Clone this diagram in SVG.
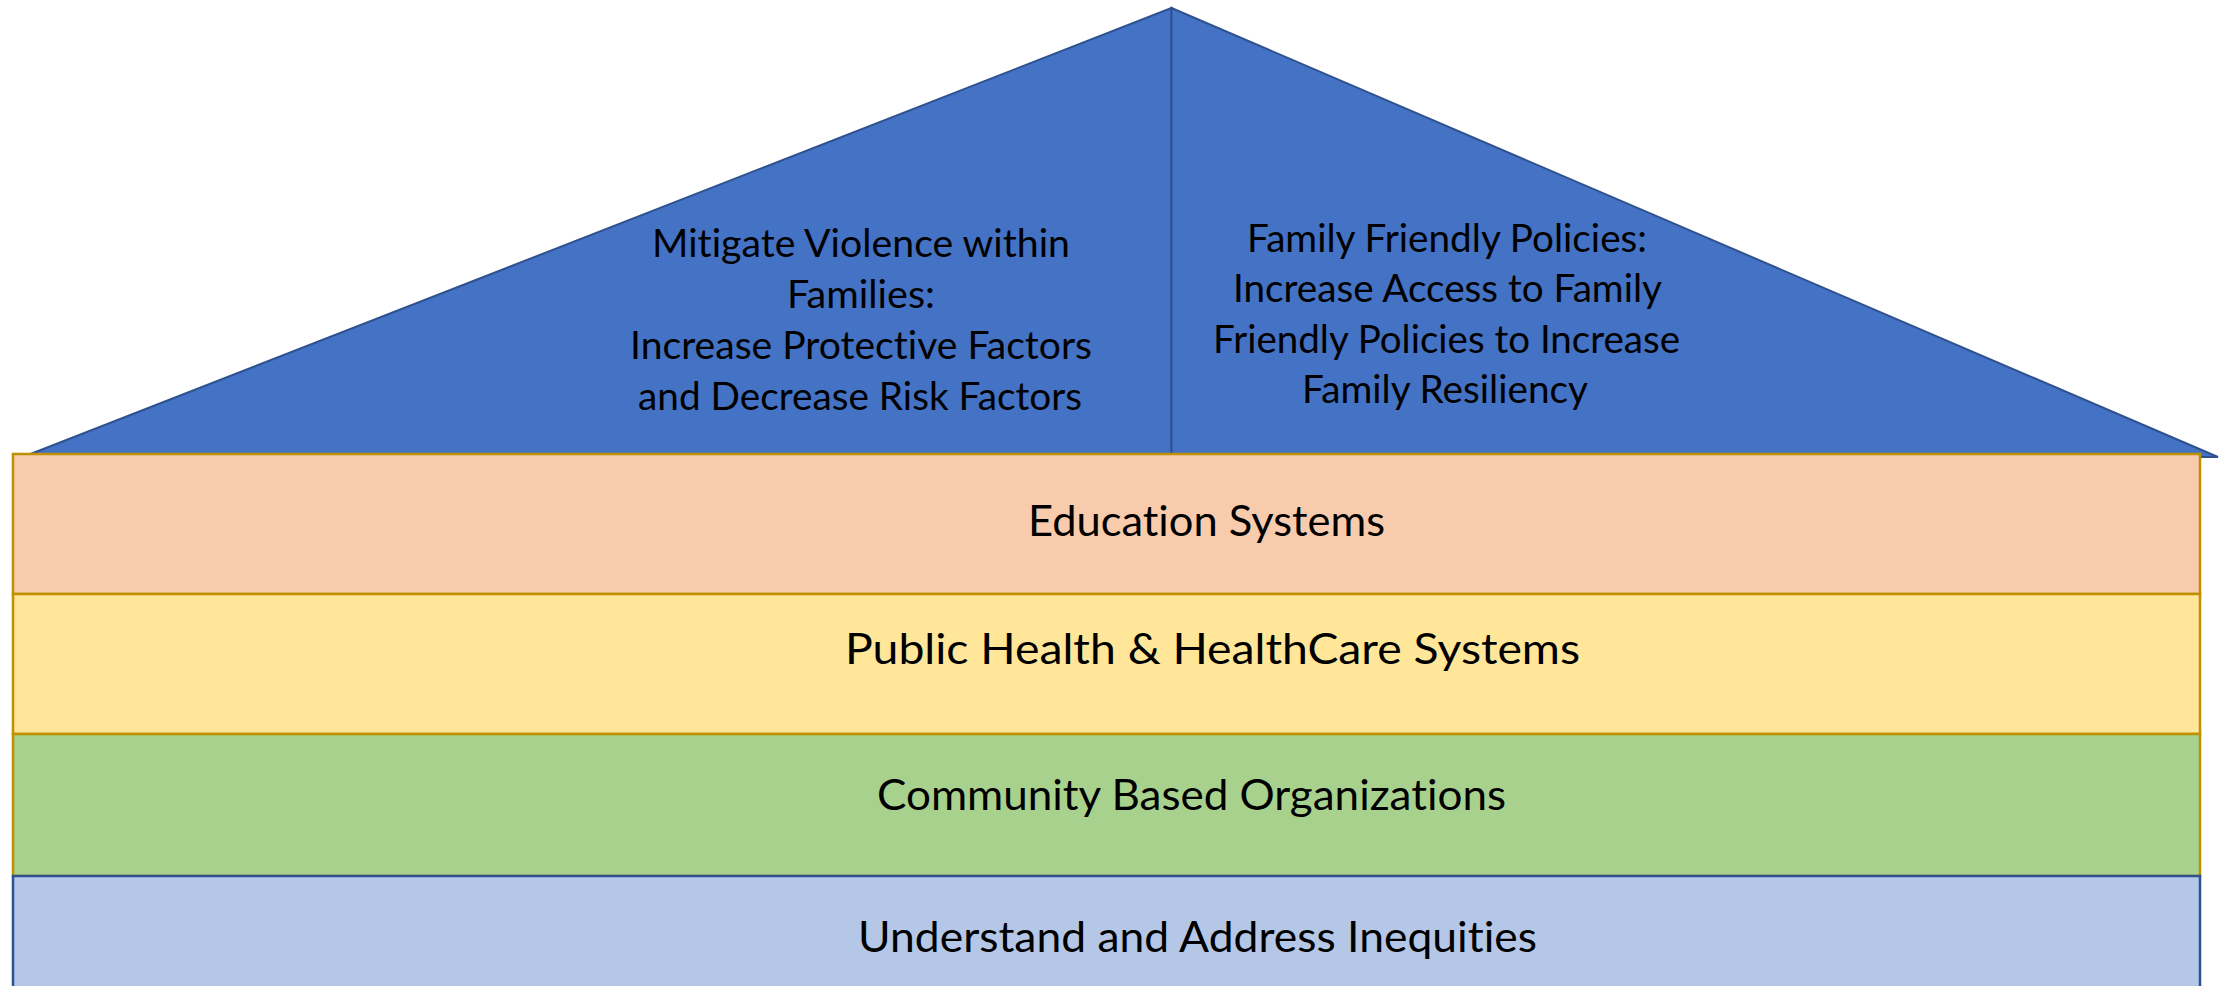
<svg xmlns="http://www.w3.org/2000/svg" width="2226" height="986" viewBox="0 0 2226 986">
<style>
.roof{fill:#4472C4;stroke:#2F528F;stroke-width:2;stroke-linejoin:miter}
.band{stroke-width:2.5}
.gold{stroke:#BF9000}
.blue{stroke:#2F528F}
.t{font-family:Lato,"Open Sans",sans-serif;fill:#000;text-anchor:start;font-variant-ligatures:none;font-feature-settings:"liga" 0,"clig" 0}
.bt{font-size:42.5px}
.rt{font-size:38px}
</style>
<rect width="2226" height="986" fill="#FFFFFF"/>
<g id="roof-left">
<polygon class="roof" points="1171.5,8 28,455 1171.5,455"/>
<text class="t rt" x="652" y="257" textLength="418" lengthAdjust="spacingAndGlyphs">Mitigate Violence within</text>
<text class="t rt" x="787" y="308" textLength="148" lengthAdjust="spacingAndGlyphs">Families:</text>
<text class="t rt" x="630" y="359" textLength="462" lengthAdjust="spacingAndGlyphs">Increase Protective Factors</text>
<text class="t rt" x="638" y="410" textLength="444" lengthAdjust="spacingAndGlyphs">and Decrease Risk Factors</text>
</g>
<g id="roof-right">
<polygon class="roof" points="1171.5,8 2218,457 1171.5,457"/>
<text class="t rt" x="1247" y="252" textLength="400" lengthAdjust="spacingAndGlyphs">Family Friendly Policies:</text>
<text class="t rt" x="1233" y="302" textLength="429" lengthAdjust="spacingAndGlyphs">Increase Access to Family</text>
<text class="t rt" x="1213" y="353" textLength="467" lengthAdjust="spacingAndGlyphs">Friendly Policies to Increase</text>
<text class="t rt" x="1302" y="403" textLength="286" lengthAdjust="spacingAndGlyphs">Family Resiliency</text>
</g>
<g id="band-education">
<rect class="band gold" x="13" y="454" width="2187" height="140" fill="#F8CBAD"/>
<text class="t bt" x="1028" y="536" textLength="357" lengthAdjust="spacingAndGlyphs">Education Systems</text>
</g>
<g id="band-health">
<rect class="band gold" x="13" y="594" width="2187" height="140" fill="#FFE699"/>
<text class="t bt" x="845" y="664" textLength="735" lengthAdjust="spacingAndGlyphs">Public Health &amp; HealthCare Systems</text>
</g>
<g id="band-community">
<rect class="band gold" x="13" y="734" width="2187" height="142" fill="#A9D18E"/>
<text class="t bt" x="877" y="810" textLength="629" lengthAdjust="spacingAndGlyphs">Community Based Organizations</text>
</g>
<g id="band-inequities">
<rect class="band blue" x="13" y="876" width="2187" height="150" fill="#B4C7E7"/>
<text class="t bt" x="858" y="952" textLength="679" lengthAdjust="spacingAndGlyphs">Understand and Address Inequities</text>
</g>
<g id="connectors"></g>
</svg>
